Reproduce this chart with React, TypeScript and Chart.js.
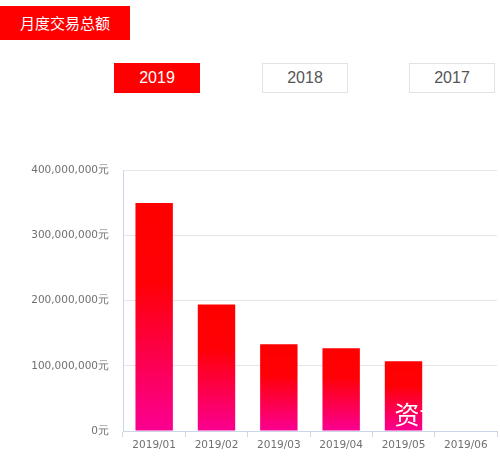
import React, { useEffect, useRef } from "react";
import { Chart, registerables } from "chart.js";

Chart.register(...registerables);

const categories = ["2019/01", "2019/02", "2019/03", "2019/04", "2019/05", "2019/06"];
const monthlyTotals = [350000000, 194000000, 133000000, 127000000, 107000000, 0];
const yearTabs = ["2019", "2018", "2017"];
const title = "月度交易总额";
const watermark = "资讯";

const fmt = (v: number) => v.toString().replace(/\B(?=(\d{3})+(?!\d))/g, ",") + "元";

const watermarkPlugin = {
  id: "watermark",
  afterDatasetsDraw(chart: any) {
    const { ctx, scales } = chart;
    const x = scales.x.getPixelForValue(4) - 9;
    const y = scales.y.getPixelForValue(0) - 17;
    ctx.save();
    ctx.fillStyle = "#ffffff";
    ctx.font = "25px 'Noto Sans CJK SC'";
    ctx.textBaseline = "middle";
    ctx.textAlign = "left";
    ctx.fillText(watermark, x, y);
    ctx.restore();
  },
};

export default function App() {
  const ref = useRef<HTMLCanvasElement | null>(null);

  useEffect(() => {
    if (!ref.current) return;
    const chart = new Chart(ref.current, {
      type: "bar",
      data: {
        labels: categories,
        datasets: [
          {
            data: monthlyTotals,
            barPercentage: 0.6,
            categoryPercentage: 1,
            backgroundColor: (c: any) => {
              const ch = c.chart;
              const sy = ch.scales && ch.scales.y;
              if (!sy || !ch.chartArea) return "#ff0000";
              const v = c.raw as number;
              const top = sy.getPixelForValue(v);
              const bottom = sy.getPixelForValue(0);
              if (bottom - top < 1) return "#ff0000";
              const g = ch.ctx.createLinearGradient(0, top, 0, bottom);
              g.addColorStop(0, "#ff0000");
              g.addColorStop(0.35, "#ff0006");
              g.addColorStop(1, "#fa0092");
              return g;
            },
          },
        ],
      },
      options: {
        animation: false,
        responsive: false,
        maintainAspectRatio: false,
        layout: { padding: { top: 20, right: 3, left: 0, bottom: 0 } },
        plugins: { legend: { display: false }, tooltip: { enabled: false } },
        scales: {
          x: {
            afterFit: (s: any) => {
              s.height = 26;
            },
            grid: {
              offset: true,
              drawOnChartArea: false,
              drawTicks: true,
              tickLength: 6,
              color: "#ccd6eb",
            },
            border: { color: "#ccd6eb" },
            ticks: {
              color: "#707070",
              padding: 2,
              font: { family: "'DejaVu Sans'", size: 10.5 },
            },
          },
          y: {
            min: 0,
            max: 400000000,
            afterFit: (s: any) => {
              s.width = 123;
            },
            grid: { color: "#e6e6e6", drawTicks: false },
            border: { color: "#ccd6eb" },
            ticks: {
              stepSize: 100000000,
              color: "#707070",
              padding: 14,
              font: { family: "'DejaVu Sans'", size: 10.5 },
              callback: (v: any) => fmt(Number(v)),
            },
          },
        },
      },
      plugins: [watermarkPlugin],
    });
    return () => chart.destroy();
  }, []);

  const tabLeft = [114, 262, 409];

  return (
    <div
      style={{
        position: "absolute",
        left: 0,
        top: 0,
        width: 500,
        height: 457,
        background: "#fff",
        overflow: "hidden",
        fontFamily: "'Noto Sans CJK SC', 'Liberation Sans', sans-serif",
      }}
    >
      <div
        style={{
          position: "absolute",
          left: 0,
          top: 6,
          width: 130,
          height: 34,
          background: "#ff0000",
          color: "#fff",
          fontSize: 15,
          lineHeight: "34px",
          textAlign: "center",
        }}
      >
        {title}
      </div>
      {yearTabs.map((y, i) => (
        <div
          key={y}
          style={{
            position: "absolute",
            left: tabLeft[i],
            top: 63,
            width: 86,
            height: 30,
            boxSizing: "border-box",
            background: i === 0 ? "#ff0000" : "#fff",
            border: i === 0 ? "1px solid #ff0000" : "1px solid #e3e3e3",
            color: i === 0 ? "#fff" : "#555",
            fontSize: 16,
            lineHeight: "28px",
            textAlign: "center",
            fontFamily: "'Liberation Sans', sans-serif",
          }}
        >
          {y}
        </div>
      ))}
      <canvas
        ref={ref}
        width={500}
        height={307}
        style={{ position: "absolute", left: 0, top: 150, width: 500, height: 307 }}
      />
    </div>
  );
}
